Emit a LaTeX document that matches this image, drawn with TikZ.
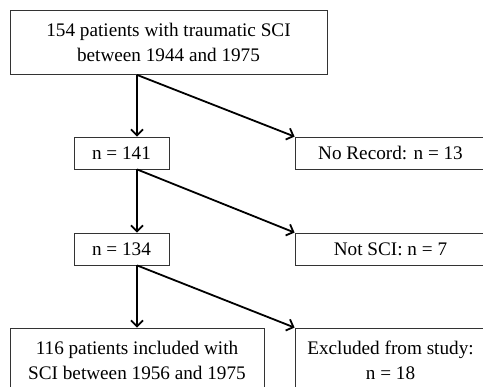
\documentclass[tikz,border=0pt]{standalone}
\usepackage{fontspec}
\setmainfont{Liberation Serif}
\usetikzlibrary{arrows.meta, positioning}

\begin{document}
\begin{tikzpicture}[-{Straight Barb[length=6pt,width=12pt]}, node distance =96pt and 269pt, on grid, line width=1.8pt]
      \tikzstyle{box}=[draw=black!80, line width=0.8pt, text=black, font=\fontsize{19.2}{25}\selectfont, align=center, inner sep=0pt, minimum height=32pt]
      \clip (0,0) rectangle (483pt,-387pt);
      \node[box, minimum width=317pt, minimum height=64pt] (top) at (168.5pt,-42.5pt) {154 patients with traumatic SCI\\between 1944 and 1975};
      \node[box, minimum width=95pt] (n141) [below left = 110.5pt and 47pt of top] {n = 141};
      \node[box, minimum width=191pt] (norec) [right = of n141] {No Record: n = 13};
      \node[box, minimum width=95pt] (n134) [below = of n141] {n = 134};
      \node[box, minimum width=191pt] (notsci) [right = of n134] {Not SCI: n = 7};
      \node[box, minimum width=254pt, minimum height=64pt] (inc) [below right = 111pt and 15.5pt of n134] {116 patients included with\\SCI between 1956 and 1975};
      \node[box, minimum width=191pt, minimum height=64pt] (excl) [below = 111pt of notsci] {Excluded from study:\\n = 18};
      \draw (top.south -| inc) -- (n141.north -| inc);
      \draw (top.south -| inc) -- (norec.north west);
      \draw (n141.south -| inc) -- (n134.north -| inc);
      \draw (n141.south -| inc) -- (notsci.north west);
      \draw (n134.south -| inc) -- (inc.north);
      \draw (n134.south -| inc) -- (excl.north west);
    \end{tikzpicture}
\end{document}
